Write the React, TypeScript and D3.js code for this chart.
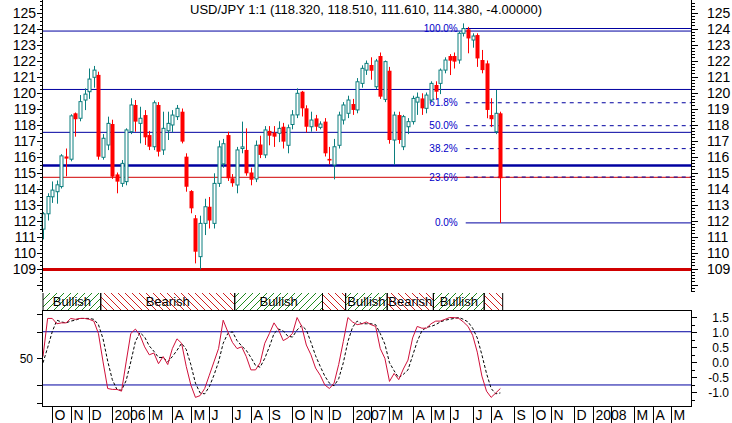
import React from "react";
import * as d3 from "d3";

const title = "USD/JPY 1:1 (118.320, 118.510, 111.610, 114.380, -4.00000)";
const firstWeek = new Date(2005, 8, 19);

const opens = [111.46,112.42,113.48,113.80,114.12,116.00,115.83,118.70,118.39,119.53,
120.05,120.95,121.10,115.95,116.72,118.03,114.88,114.32,114.43,117.55,
119.22,118.07,118.59,117.34,116.61,119.22,116.41,117.61,117.97,118.49,
118.80,115.99,113.84,112.14,109.74,111.82,112.86,111.82,114.32,115.54,
117.34,114.64,114.22,116.50,116.41,115.00,114.60,116.75,116.10,117.60,
117.49,117.45,117.86,116.70,118.00,118.60,120.05,119.01,117.86,118.38,
117.82,118.18,115.85,115.47,116.70,118.28,118.70,119.28,118.91,120.57,
121.40,121.72,120.36,122.28,119.57,121.36,117.03,118.59,116.61,117.86,
118.18,119.40,119.63,119.01,119.53,120.47,120.57,121.40,122.28,122.28,
122.03,123.70,123.95,123.28,123.59,122.03,121.82,118.59,117.55,118.70];
const highs = [112.52,113.70,114.44,114.50,116.15,116.50,118.64,118.75,119.84,120.26,
121.50,121.66,121.30,117.40,118.49,118.30,115.00,115.78,117.76,119.64,
119.53,119.11,118.90,117.60,119.50,119.40,118.80,118.80,118.90,119.22,
119.00,116.20,113.90,112.34,112.30,113.36,113.47,114.95,117.00,117.10,
117.55,114.90,116.60,118.18,117.76,115.30,117.00,117.30,117.90,117.90,
117.90,118.20,118.10,118.00,118.90,120.26,120.10,119.20,118.80,118.60,
118.20,118.40,116.60,117.10,118.80,119.40,119.80,119.60,120.90,121.70,
122.00,122.20,122.10,122.50,122.00,121.60,118.80,118.80,118.60,118.40,
119.80,120.00,119.95,120.00,120.70,120.70,121.50,122.20,122.40,122.50,
123.80,124.32,124.10,123.70,123.70,122.66,122.00,119.64,120.16,118.80];
const lows = [110.82,112.00,113.10,113.05,114.00,114.76,115.70,117.24,118.20,118.90,
119.60,120.30,115.80,115.80,116.40,114.60,113.70,114.10,114.20,117.40,
117.55,116.82,116.72,116.40,116.40,116.00,116.10,117.03,117.50,118.28,
116.82,113.80,112.45,109.32,108.95,111.09,111.50,111.50,114.10,115.30,
114.47,114.11,113.70,116.20,114.80,114.20,114.40,115.90,115.90,116.70,
116.60,116.90,116.50,116.20,117.70,118.40,118.50,117.50,117.55,117.60,
117.70,116.00,115.50,114.57,116.50,118.00,118.40,118.60,118.70,120.30,
121.10,120.80,120.20,119.60,119.40,116.80,115.47,116.80,116.40,117.40,
118.00,118.60,118.60,118.70,119.40,119.60,119.90,121.20,121.09,121.50,
121.80,123.50,122.45,122.80,121.60,121.20,118.39,117.84,117.40,111.85];
const closes = [112.42,113.50,113.90,114.23,116.04,115.87,118.54,118.33,119.43,119.90,
120.84,121.40,115.99,117.14,118.07,114.74,114.43,115.57,117.66,119.22,
118.18,118.39,117.20,116.61,119.36,116.30,117.76,118.07,118.59,119.01,
116.93,114.11,112.76,110.05,111.82,112.86,112.00,114.32,116.60,116.80,
114.64,114.33,116.41,116.60,114.95,114.55,116.70,116.10,117.66,117.30,
117.24,117.76,116.93,117.80,118.60,119.95,119.01,117.86,118.28,117.86,
118.03,116.20,115.75,116.61,118.59,119.22,119.53,118.91,120.67,121.51,
121.82,121.36,121.97,119.74,121.93,117.03,118.59,117.03,118.49,118.18,
119.63,119.70,119.01,119.84,120.57,120.05,121.40,122.03,121.99,121.93,
123.70,124.00,123.38,123.53,122.13,121.40,118.91,118.33,118.70,114.64];

const stochK = [52,95,95,89,90,90,95,94,95,95,94,92,78,46,16,15,15,13,46,78,
83,76,63,54,56,44,52,43,61,72,67,41,20,6,8,16,31,46,61,93,
80,68,61,63,52,37,37,45,67,78,90,82,70,73,78,96,86,65,54,39,
31,20,16,22,43,69,96,91,88,89,91,88,86,61,50,24,33,26,38,48,
73,86,84,84,89,92,92,94,96,96,95,91,86,76,57,30,13,6,11,16];
const stochD = [45,62,80,93,91,90,92,93,95,95,95,94,88,72,47,26,15,14,25,46,
69,79,74,64,58,51,51,46,52,59,67,60,43,22,11,10,18,31,46,67,
78,80,70,64,59,51,42,40,50,63,78,83,81,75,74,82,87,82,68,53,
41,30,22,19,27,45,69,85,92,89,89,89,88,78,66,45,36,28,32,37,
53,69,81,85,86,88,91,93,94,95,96,94,91,84,73,54,33,16,10,11];

const blueLevels = [123.84, 120.19, 117.51];
const thickBlueLevel = 115.43;
const redLevel = 114.7;
const thickRedLevel = 108.94;
const fibHigh = 124.0;
const fibLow = 111.85;
const fibStartWeek = 91.5;
const fibRatios = [1, 0.618, 0.5, 0.382, 0.236, 0];
const fibLabels = ["100.0%", "61.8%", "50.0%", "38.2%", "23.6%", "0.0%"];

const trendStarts = [0, 13, 42, 61, 66, 75, 85, 96];
const trendEnds = [12, 41, 60, 65, 74, 84, 95, 99];
const trendKinds = ["Bullish", "Bearish", "Bullish", "Bearish", "Bullish", "Bearish", "Bullish", "Bearish"];

const priceLabels = d3.range(109, 126);
const oscLeftTicks = [0, 20, 50, 80, 100];
const oscLeftLabels = [50];
const oscBands = [20, 80];
const oscRightLabels = [1.5, 1.0, 0.5, 0.0, -0.5, -1.0];
const monthInitials = ["", "", "M", "A", "M", "J", "J", "A", "S", "O", "N", "D"];

const TEAL = "#0b7e7e";
const RED = "#ff0000";
const BLUE = "#0000a0";
const LINE_RED = "#d00000";
const FONT = "Liberation Sans, Arial, sans-serif";

export default function App() {
  const W = 732, H = 423;
  const axL = 42, axR = 691;
  const mainBottom = 292;
  const bandTop = 293, bandBottom = 310;
  const oscTop = 310, oscBottom = 406;

  const x = d3.scaleLinear().domain([0, 140.26]).range([43, 691]);
  const y = d3.scaleLinear().domain([109, 125]).range([268.5, 12.5]);
  const k = d3.scaleLinear().domain([0, 100]).range([402.7, 314]);
  const r = d3.scaleLinear().domain([-1, 1.5]).range([392.3, 317.3]);

  const candles = opens.map((o, i) => ({ i, o, h: highs[i], l: lows[i], c: closes[i] }));

  const weeks = d3.range(0, 141).map((i) => d3.timeMonday.offset(firstWeek, i));
  const months: { i: number; label: string }[] = [];
  for (let i = 1; i < weeks.length; i++) {
    const fri = d3.timeDay.offset(weeks[i], 4);
    const prev = d3.timeDay.offset(weeks[i - 1], 4);
    if (fri.getMonth() !== prev.getMonth()) {
      const m = fri.getMonth();
      const label = m === 0 ? String(fri.getFullYear()) : monthInitials[m];
      if (x(i) < axR) months.push({ i, label });
    }
  }

  const leftTicks = d3.range(107.5, 126.01, 0.25).filter((v) => y(v) >= 0 && y(v) <= mainBottom);
  const rightTicks = d3.range(107.4, 126.01, 0.2).filter((v) => y(v) >= 0 && y(v) <= mainBottom);
  const oscRightTicks = d3.range(-1.5, 1.76, 0.25).filter((v) => r(v) > oscTop && r(v) < oscBottom);

  const kLine = d3.line<number>().x((_, i) => x(i)).y((v) => k(v));
  const half = (x(1) - x(0)) / 2;
  const fibX0 = x(fibStartWeek);

  return (
    <svg width={W} height={H} style={{ position: "absolute", left: 0, top: 0, background: "#fff" }} fontFamily={FONT}>
      <defs>
        <pattern id="hatchBull" patternUnits="userSpaceOnUse" width="7" height="7">
          <path d="M0,7 L7,0 M-1,1 L1,-1 M6,8 L8,6" stroke="#1f8a1f" strokeWidth="1" />
        </pattern>
        <pattern id="hatchBear" patternUnits="userSpaceOnUse" width="7" height="7">
          <path d="M0,0 L7,7 M-1,6 L1,8 M6,-1 L8,1" stroke="#d02020" strokeWidth="1" />
        </pattern>
      </defs>
      <rect width={W} height={H} fill="#fff" />

      {/* title */}
      <text x={366} y={13.5} fontSize={13} textAnchor="middle" fill="#000">{title}</text>

      {/* horizontal levels */}
      {blueLevels.map((v, j) => (
        <line key={"b" + j} x1={axL} x2={axR} y1={y(v)} y2={y(v)} stroke={BLUE} strokeWidth={1} />
      ))}
      <line x1={axL} x2={axR} y1={y(thickBlueLevel)} y2={y(thickBlueLevel)} stroke={BLUE} strokeWidth={2.5} />
      <line x1={axL} x2={axR} y1={y(redLevel)} y2={y(redLevel)} stroke={LINE_RED} strokeWidth={1} />
      <line x1={axL} x2={axR} y1={y(thickRedLevel)} y2={y(thickRedLevel)} stroke={LINE_RED} strokeWidth={3} />

      {/* fibonacci */}
      {fibRatios.map((f, j) => {
        const v = fibLow + (fibHigh - fibLow) * f;
        const solid = f === 0 || f === 1;
        return (
          <g key={"f" + j}>
            <line x1={fibX0} x2={axR} y1={y(v)} y2={y(v)} stroke={BLUE} strokeWidth={1}
              strokeDasharray={solid ? undefined : "4,4"} />
            <text x={fibX0 - 8} y={y(v)} dy="0.35em" fontSize={10} textAnchor="end" fill="#0000c8">{fibLabels[j]}</text>
          </g>
        );
      })}

      {/* candles */}
      {candles.map((d) => {
        const up = d.c >= d.o;
        const cx = Math.round(x(d.i)) + 0.5;
        const top = y(Math.max(d.o, d.c));
        const bot = y(Math.min(d.o, d.c));
        const col = up ? TEAL : RED;
        return (
          <g key={"c" + d.i}>
            <line x1={cx} x2={cx} y1={y(d.h)} y2={y(d.l)} stroke={col} strokeWidth={1} />
            {up ? (
              <rect x={cx - 1.5} y={top} width={3} height={Math.max(bot - top, 1)} fill="#fff" stroke={col} strokeWidth={1} />
            ) : (
              <rect x={cx - 2} y={top} width={4} height={Math.max(bot - top, 1.5)} fill={col} />
            )}
          </g>
        );
      })}

      {/* main axes */}
      <line x1={axL + 0.5} x2={axL + 0.5} y1={0} y2={mainBottom} stroke="#000" />
      <line x1={axR + 0.5} x2={axR + 0.5} y1={0} y2={mainBottom} stroke="#000" />
      {leftTicks.map((v, j) => {
        const major = Math.abs(v - Math.round(v)) < 0.01;
        return <line key={"lt" + j} x1={axL - (major ? 5 : 2)} x2={axL} y1={Math.round(y(v)) + 0.5} y2={Math.round(y(v)) + 0.5} stroke="#000" />;
      })}
      {rightTicks.map((v, j) => {
        const major = Math.abs(v - Math.round(v)) < 0.01;
        return <line key={"rt" + j} x1={axR + 1} x2={axR + (major ? 7 : 4)} y1={Math.round(y(v)) + 0.5} y2={Math.round(y(v)) + 0.5} stroke="#000" />;
      })}
      {priceLabels.map((v) => (
        <g key={"pl" + v}>
          <text x={36} y={y(v)} dy="0.36em" fontSize={14} textAnchor="end" fill="#000">{v}</text>
          <text x={707} y={y(v)} dy="0.36em" fontSize={14} textAnchor="start" fill="#000">{v}</text>
        </g>
      ))}

      {/* trend band */}
      {trendStarts.map((s, j) => {
        const x0 = Math.max(x(s) - half, axL + 1);
        const x1 = x(trendEnds[j]) + half;
        const bull = trendKinds[j] === "Bullish";
        const w = x1 - x0;
        const fits = w > 40;
        return (
          <g key={"t" + j}>
            <rect x={x0} y={bandTop} width={w} height={bandBottom - bandTop} fill={bull ? "url(#hatchBull)" : "url(#hatchBear)"} />
            <line x1={x0} x2={x0} y1={bandTop} y2={bandBottom} stroke="#000" />
            <line x1={x1} x2={x1} y1={bandTop} y2={bandBottom} stroke="#000" />
            {fits && (
              <text x={(x0 + x1) / 2} y={(bandTop + bandBottom) / 2} dy="0.36em" fontSize={13} textAnchor="middle" fill="#000">{trendKinds[j]}</text>
            )}
          </g>
        );
      })}

      {/* oscillator panel */}
      {oscBands.map((v) => (
        <line key={"ob" + v} x1={axL} x2={axR} y1={k(v)} y2={k(v)} stroke={BLUE} strokeWidth={1} />
      ))}
      <path d={kLine(stochD) || ""} fill="none" stroke="#000" strokeWidth={1} strokeDasharray="3,2" />
      <path d={kLine(stochK) || ""} fill="none" stroke="#d0103a" strokeWidth={1} />
      <rect x={axL + 0.5} y={oscTop + 0.5} width={axR - axL} height={oscBottom - oscTop} fill="none" stroke="#000" />
      {oscLeftTicks.map((v) => (
        <line key={"olt" + v} x1={axL - 5} x2={axL} y1={Math.round(k(v)) + 0.5} y2={Math.round(k(v)) + 0.5} stroke="#000" />
      ))}
      {oscLeftLabels.map((v) => (
        <text key={"oll" + v} x={33} y={k(v)} dy="0.36em" fontSize={12} textAnchor="end" fill="#000">{v}</text>
      ))}
      {oscRightTicks.map((v, j) => {
        const major = Math.abs(v * 2 - Math.round(v * 2)) < 0.01;
        return <line key={"ort" + j} x1={axR + 1} x2={axR + (major ? 6 : 4)} y1={Math.round(r(v)) + 0.5} y2={Math.round(r(v)) + 0.5} stroke="#000" />;
      })}
      {oscRightLabels.map((v) => (
        <text key={"orl" + v} x={729} y={r(v)} dy="0.36em" fontSize={12} textAnchor="end" fill="#000">{v.toFixed(1)}</text>
      ))}

      {/* month axis */}
      {months.map((m) => {
        const mx = Math.round(x(m.i)) + 0.5;
        return (
          <g key={"m" + m.i}>
            <line x1={mx} x2={mx} y1={oscBottom} y2={H} stroke="#000" />
            {m.label && (
              <text x={mx + 2} y={420} fontSize={14} textAnchor="start" fill="#000">{m.label}</text>
            )}
          </g>
        );
      })}
    </svg>
  );
}
